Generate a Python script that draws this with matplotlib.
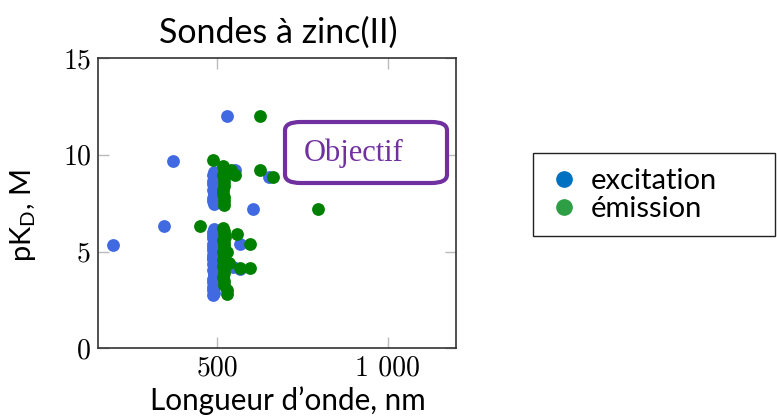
import numpy as np
import matplotlib.pyplot as plt
from matplotlib.patches import FancyBboxPatch, Rectangle
from matplotlib.lines import Line2D

# excitation wavelengths (nm) and pKD
exc_x = [528, 370, 193, 344, 605, 651, 553, 566, 566, 545,
         490, 488, 490, 487, 489, 490, 488, 490, 492, 489, 488, 490,
         490, 488, 489, 487, 490, 488, 489, 487, 490, 488, 489, 491, 487, 490, 488, 492, 490,
         489, 488, 490, 487, 489, 491, 488, 490, 489]
exc_y = [12.0, 9.7, 5.35, 6.33, 7.21, 8.88, 9.2, 5.4, 4.1, 4.2,
         9.1, 8.95, 8.8, 8.65, 8.5, 8.35, 8.2, 8.05, 7.9, 7.75, 7.6, 7.45,
         6.15, 6.0, 5.85, 5.7, 5.55, 5.4, 5.25, 5.1, 4.95, 4.8, 4.65, 4.5, 4.35, 4.2, 4.05, 3.9, 3.75,
         3.6, 3.45, 3.3, 3.15, 3.0, 2.85, 2.75, 5.95, 4.6]

# emission wavelengths (nm) and pKD
em_x = [626, 489, 626, 663, 797, 450, 553, 558, 595, 536, 566, 595, 540, 530,
        517, 520, 522, 518, 521, 519, 520, 518, 517, 519, 521,
        520, 518, 521, 519, 522, 518, 520, 519, 521, 518, 520, 519, 517, 520, 518, 519,
        521, 518, 520, 519, 530, 528]
em_y = [12.0, 9.75, 9.23, 8.88, 7.21, 6.3, 8.97, 5.9, 5.4, 4.43, 4.14, 4.14, 9.2, 5.0,
        9.4, 9.25, 9.1, 8.95, 8.8, 8.6, 8.4, 8.2, 8.0, 7.8, 7.6,
        7.4, 6.2, 6.05, 5.9, 5.75, 5.6, 5.45, 5.3, 5.15, 5.0, 4.85, 4.7, 4.55, 4.4, 4.25, 4.1,
        3.9, 3.7, 3.5, 3.25, 3.0, 2.8]

xticks = [500, 1000]
xticklabels = ["500", "1 000"]
yticks = [0, 5, 10, 15]

plt.rcParams['font.family'] = ['Lato', 'DejaVu Sans']
fig = plt.figure(figsize=(7.77, 4.19), dpi=100)
ax = fig.add_axes([0.126, 0.1685, 0.4605, 0.693])

ax.scatter(exc_x, exc_y, s=85, color="royalblue", linewidths=0, zorder=3)
ax.scatter(em_x, em_y, s=85, color="green", linewidths=0, zorder=4)

ax.set_xlim(150, 1200)
ax.set_ylim(0, 15)
ax.set_xticks(xticks)
ax.set_xticklabels(xticklabels)
ax.set_yticks(yticks)
ax.tick_params(direction="in", length=8, width=1, color="#bbbbbb",
               top=True, right=True, labelsize=20, pad=5)
for lab in ax.get_xticklabels() + ax.get_yticklabels():
    lab.set_family("cmr10")
for sp in ax.spines.values():
    sp.set_color("#333333")
    sp.set_linewidth(1.2)

fig.text(0.358, 0.922, "Sondes à zinc(II)", ha="center", va="center", fontsize=24.5)
fig.text(0.371, 0.043, "Longueur d\u2019onde, nm", ha="center", va="center", fontsize=21.3)
fig.text(0.03, 0.485, "pK$_\\mathregular{D}$, M", ha="center", va="center",
         rotation=90, fontsize=21)

# Objectif box
box = FancyBboxPatch((285 / 777, 1 - 183 / 419), 162 / 777, 61 / 419,
                     boxstyle="round,pad=0,rounding_size=0.02",
                     transform=fig.transFigure, facecolor="white",
                     edgecolor="#7030A0", linewidth=3, zorder=5)
fig.patches.append(box)
fig.text(354 / 777, 1 - 153 / 419, "Objectif", ha="center", va="center",
         fontsize=22, color="#7030A0", family="Liberation Serif", zorder=6)

# legend box
rect = Rectangle((533 / 777, 1 - 236 / 419), 242 / 777, 83 / 419,
                 transform=fig.transFigure, facecolor="white",
                 edgecolor="#222222", linewidth=1)
fig.patches.append(rect)
handles = [Line2D([], [], ls="", marker="o", ms=11, color="#0070C0", label="excitation"),
           Line2D([], [], ls="", marker="o", ms=11, color="#2E9E45", label="émission")]
fig.legend(handles=handles, loc="center left", bbox_to_anchor=(538 / 777, 1 - 195 / 419),
           frameon=False, fontsize=21, handletextpad=0.4, labelspacing=0.05,
           handlelength=1.0, borderaxespad=0)

fig.savefig("out.png", dpi=100)
